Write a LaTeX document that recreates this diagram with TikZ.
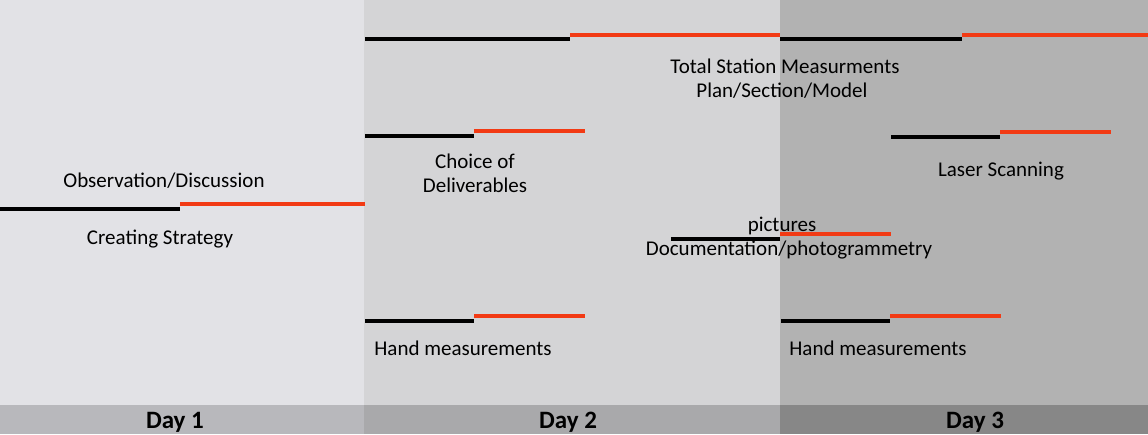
\documentclass[tikz,border=0pt]{standalone}
\usepackage{fontspec}
\setmainfont{Carlito}
\definecolor{bgA}{HTML}{E2E2E6}
\definecolor{bgB}{HTML}{D4D4D6}
\definecolor{bgC}{HTML}{B2B2B2}
\definecolor{barA}{HTML}{B8B8BC}
\definecolor{barB}{HTML}{A9A9AB}
\definecolor{barC}{HTML}{878787}
\definecolor{redl}{HTML}{F23A14}
\tikzset{
  blk/.style={line width=4pt, black},
  rd/.style={line width=4pt, redl},
  lbl/.style={anchor=base, inner sep=0pt, font=\fontsize{21}{25}\selectfont},
  daylbl/.style={anchor=base, inner sep=0pt, font=\fontsize{25}{29}\selectfont\bfseries}
}
\begin{document}
\begin{tikzpicture}[x=1pt,y=-1pt]
\useasboundingbox (0,0) rectangle (1148,434);
% backgrounds
\fill[bgA] (0,0) rectangle (364,405);
\fill[bgB] (364,0) rectangle (780,405);
\fill[bgC] (780,0) rectangle (1148,405);
\fill[barA] (0,405) rectangle (364,434);
\fill[barB] (364,405) rectangle (780,434);
\fill[barC] (780,405) rectangle (1148,434);
% Day 1
\coordinate (a1) at (0,209); \coordinate (a2) at (180,209);
\coordinate (a3) at (180,204); \coordinate (a4) at (365,204);
\draw[blk] (a1) -- (a2); \draw[rd] (a3) -- (a4);
% Total station
\coordinate (t1) at (365,39); \coordinate (t2) at (570,39);
\coordinate (t3) at (570,35); \coordinate (t4) at (780,35);
\coordinate (t5) at (780,39); \coordinate (t6) at (962,39);
\coordinate (t7) at (962,35); \coordinate (t8) at (1148,35);
\draw[blk] (t1) -- (t2); \draw[rd] (t3) -- (t4);
\draw[blk] (t5) -- (t6); \draw[rd] (t7) -- (t8);
% Choice
\coordinate (c1) at (365,136); \coordinate (c2) at (474,136);
\coordinate (c3) at (474,131); \coordinate (c4) at (585,131);
\draw[blk] (c1) -- (c2); \draw[rd] (c3) -- (c4);
% Laser
\coordinate (l1) at (891,137); \coordinate (l2) at (1000,137);
\coordinate (l3) at (1000,132); \coordinate (l4) at (1111,132);
\draw[blk] (l1) -- (l2); \draw[rd] (l3) -- (l4);
% Pictures
\coordinate (p1) at (671,239); \coordinate (p2) at (780,239);
\coordinate (p3) at (780,234); \coordinate (p4) at (891,234);
\draw[blk] (p1) -- (p2); \draw[rd] (p3) -- (p4);
% Hand 1
\coordinate (h1) at (365,321); \coordinate (h2) at (474,321);
\coordinate (h3) at (474,316); \coordinate (h4) at (585,316);
\draw[blk] (h1) -- (h2); \draw[rd] (h3) -- (h4);
% Hand 2
\coordinate (k1) at (781,321); \coordinate (k2) at (890,321);
\coordinate (k3) at (890,316); \coordinate (k4) at (1001,316);
\draw[blk] (k1) -- (k2); \draw[rd] (k3) -- (k4);
% labels
\node[lbl] (obs) at (164,187) {Observation/Discussion};
\node[lbl] (cre) at (160,244) {Creating Strategy};
\node[lbl] (tot) at (785,73) {Total Station Measurments};
\node[lbl] (pla) at (782,97) {Plan/Section/Model};
\node[lbl] (cho) at (475,168) {Choice of};
\node[lbl] (del) at (475,192) {Deliverables};
\node[lbl] (las) at (1001,176) {Laser Scanning};
\node[lbl] (pic) at (782,231) {pictures};
\node[lbl] (doc) at (789,255) {Documentation/photogrammetry};
\node[lbl] (hm1) at (463,355) {Hand measurements};
\node[lbl] (hm2) at (878,355) {Hand measurements};
\node[daylbl] (d1) at (175,428) {Day 1};
\node[daylbl] (d2) at (568,428) {Day 2};
\node[daylbl] (d3) at (975,428) {Day 3};
\end{tikzpicture}
\end{document}
